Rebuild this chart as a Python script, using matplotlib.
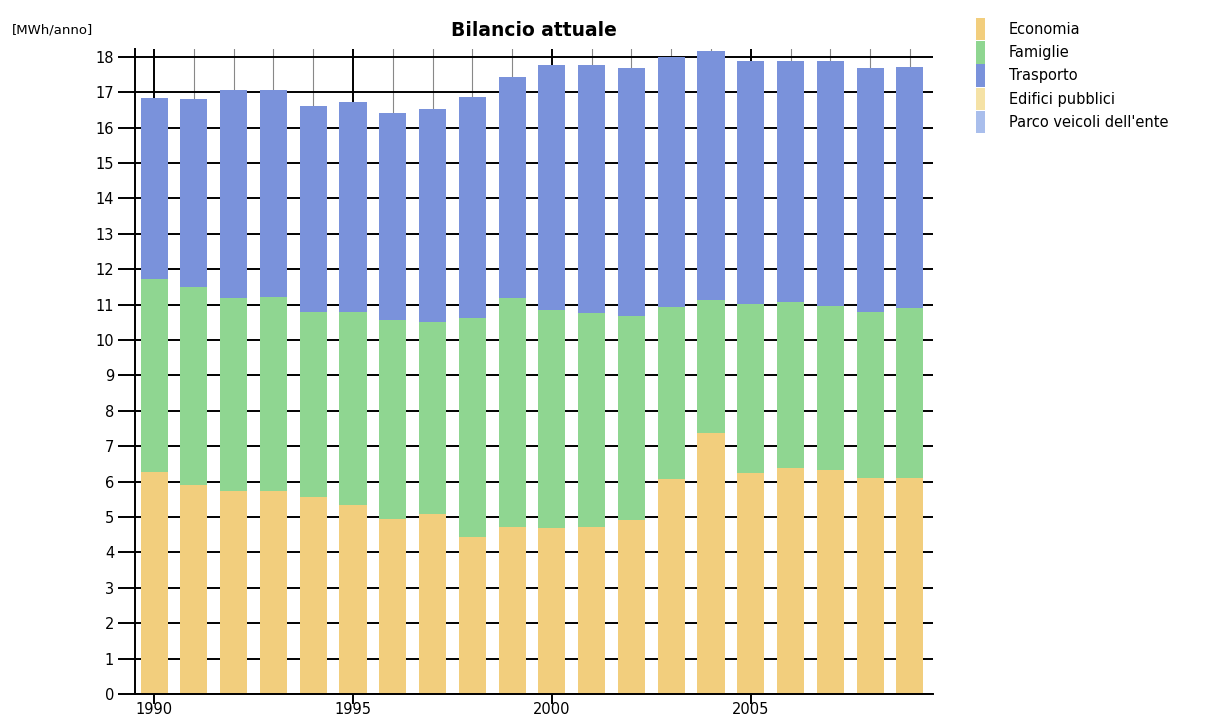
import numpy as np
import matplotlib
matplotlib.use("Agg")
import matplotlib.pyplot as plt
from matplotlib.ticker import MultipleLocator

# Dati
anni = list(range(1990, 2010))
economia = [6.28, 5.90, 5.74, 5.74, 5.57, 5.34, 4.93, 5.08, 4.43, 4.73,
            4.68, 4.73, 4.92, 6.06, 7.38, 6.25, 6.37, 6.33, 6.09, 6.09]
# livello superiore del verde (economia + famiglie)
top_famiglie = [11.72, 11.51, 11.18, 11.22, 10.78, 10.80, 10.56, 10.52, 10.63, 11.18,
                10.85, 10.76, 10.69, 10.94, 11.13, 11.01, 11.06, 10.96, 10.78, 10.90]
# totale (livello superiore del blu)
totale = [16.84, 16.80, 17.06, 17.06, 16.62, 16.73, 16.40, 16.53, 16.86, 17.44,
          17.77, 17.77, 17.67, 18.00, 18.17, 17.89, 17.89, 17.89, 17.67, 17.72]
famiglie = [t - e for t, e in zip(top_famiglie, economia)]
trasporto = [t - f for t, f in zip(totale, top_famiglie)]
edifici = [0.0] * len(anni)
parco = [0.0] * len(anni)

serie = ["Economia", "Famiglie", "Trasporto", "Edifici pubblici", "Parco veicoli dell'ente"]
colori = ["#F2CE7D", "#8FD691", "#7A92DB", "#F5E2A6", "#A9BEEC"]
valori = [economia, famiglie, trasporto, edifici, parco]

fig = plt.figure(figsize=(12.16, 7.22), dpi=100)
ax = fig.add_axes([135 / 1216, 1 - 694 / 722, (933 - 135) / 1216, (694 - 49) / 722])

base = np.zeros(len(anni))
handles = []
for nome, col, v in zip(serie, colori, valori):
    v = np.array(v)
    b = ax.bar(anni, v, width=0.68, bottom=base, color=col, linewidth=0, zorder=3, label=nome)
    handles.append(b)
    base += v

ax.set_xlim(1989.52, 2009.58)
ax.set_ylim(0, 18.22)
ax.yaxis.set_major_locator(MultipleLocator(1))
ax.xaxis.set_major_locator(MultipleLocator(5))
ax.xaxis.set_minor_locator(MultipleLocator(1))

ax.grid(axis="y", which="major", color="black", linewidth=1.4, zorder=0)
ax.grid(axis="x", which="major", color="black", linewidth=1.4, zorder=0)
ax.grid(axis="x", which="minor", color="#888888", linewidth=0.8, zorder=0)
ax.set_axisbelow(True)

for s in ["top", "right"]:
    ax.spines[s].set_visible(False)
for s in ["left", "bottom"]:
    ax.spines[s].set_linewidth(1.4)
    ax.spines[s].set_zorder(4)

ax.tick_params(axis="y", direction="out", length=12, width=1.4, labelsize=10.5, pad=3)
ax.tick_params(axis="x", which="major", direction="inout", length=14, width=1.4, labelsize=10.5, pad=-1)
ax.tick_params(axis="x", which="minor", length=0)

fig.text(0.010, 1 - 30 / 722, "[MWh/anno]", fontsize=9.5, va="center", ha="left")
fig.text(534 / 1216, 1 - 30 / 722, "Bilancio attuale", fontsize=13.5, fontweight="bold",
         va="center", ha="center")

fig.legend(handles=handles, labels=serie, loc="upper left",
           bbox_to_anchor=(970 / 1216, 1 - 12 / 722), frameon=False,
           fontsize=10.5, handlelength=0.65, handleheight=2.0, handletextpad=1.6,
           labelspacing=0.05, borderaxespad=0)

fig.savefig("out.png", dpi=100)
